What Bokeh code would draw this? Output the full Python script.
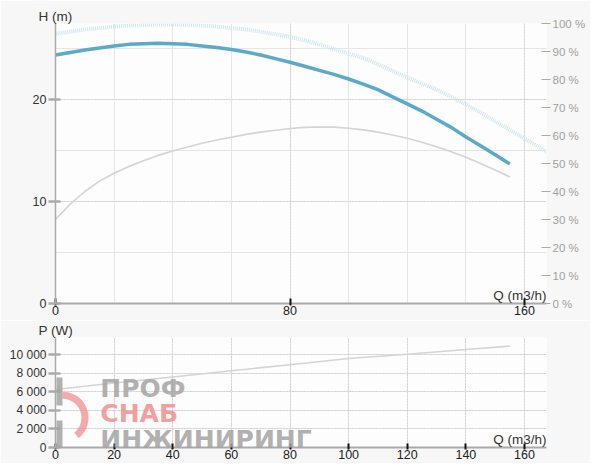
from bokeh.plotting import figure
from bokeh.layouts import column
from bokeh.models import (Range1d, LinearAxis, FixedTicker, PrintfTickFormatter,
                          Label, BoxAnnotation, Grid, Title)
from bokeh.embed import file_html
from bokeh.resources import INLINE

# ---------------- data ----------------
q_h = [0, 5, 10, 15, 20, 25, 30, 35, 40, 45, 50, 55, 60, 65, 70, 75, 80, 85, 90, 95,
       100, 105, 110, 115, 120, 125, 130, 135, 140, 145, 150, 155]
h_vals = [24.4, 24.65, 24.9, 25.1, 25.3, 25.45, 25.5, 25.55, 25.5, 25.45, 25.3, 25.15,
          24.95, 24.7, 24.4, 24.05, 23.7, 23.3, 22.9, 22.5, 22.05, 21.55, 21.0, 20.3,
          19.6, 18.9, 18.1, 17.3, 16.35, 15.5, 14.6, 13.7]

q_max = [0, 5, 10, 15, 20, 25, 30, 35, 40, 45, 50, 55, 60, 65, 70, 75, 80, 85, 90, 95,
         100, 105, 110, 115, 120, 125, 130, 135, 140, 145, 150, 155, 160, 165, 168]
h_max = [26.5, 26.7, 26.9, 27.05, 27.2, 27.3, 27.35, 27.4, 27.4, 27.38, 27.3, 27.2,
         27.05, 26.9, 26.7, 26.45, 26.2, 25.85, 25.45, 25.0, 24.55, 24.1, 23.5, 22.85,
         22.2, 21.6, 21.0, 20.3, 19.55, 18.75, 17.9, 17.05, 16.2, 15.35, 14.8]

q_eff = [0, 5, 10, 15, 20, 25, 30, 35, 40, 45, 50, 55, 60, 65, 70, 75, 80, 85, 90, 95,
         100, 105, 110, 115, 120, 125, 130, 135, 140, 145, 150, 155]
eff_vals = [30, 35.5, 40.0, 43.7, 46.5, 48.9, 51.0, 52.9, 54.5, 55.9, 57.2, 58.4, 59.4,
            60.4, 61.2, 61.9, 62.5, 62.9, 63.05, 63.0, 62.6, 62.0, 61.2, 60.2, 59.0,
            57.6, 56.0, 54.2, 52.2, 50.0, 47.7, 45.2]

q_p = [0, 20, 40, 60, 80, 100, 120, 140, 155]
p_vals = [6250, 6950, 7600, 8270, 8920, 9580, 10050, 10550, 10920]

h_ticks = [0, 10, 20]
q_ticks_top = [0, 80, 160]
pct_ticks = [0, 10, 20, 30, 40, 50, 60, 70, 80, 90, 100]
q_ticks_bottom = [0, 20, 40, 60, 80, 100, 120, 140, 160]
p_ticks = [0, 2000, 4000, 6000, 8000, 10000]
p_tick_labels = {0: "0", 2000: "2 000", 4000: "4 000", 6000: "6 000",
                 8000: "8 000", 10000: "10 000"}

Q_MAX = 167.5
H_MAX = 27.5
P_MAX = 11850

FONT = "Liberation Sans"
BORDER = "#f7f7f7"
FRAME = "#fdfdfd"
GRID = "#c4c4c4"


def style_x(ax, tick_in, tick_out):
    ax.axis_line_color = "#aaaaaa"
    ax.axis_line_width = 2
    ax.major_tick_line_color = "#111111"
    ax.major_tick_line_width = 2
    ax.major_tick_in = tick_in
    ax.major_tick_out = tick_out
    ax.minor_tick_line_color = None
    ax.major_label_standoff = 0
    ax.major_label_text_font = FONT
    ax.major_label_text_font_size = "12.5px"
    ax.major_label_text_color = "#222222"


def style_y(ax, size):
    ax.axis_line_color = "#aaaaaa"
    ax.axis_line_width = 1.5
    ax.major_tick_line_color = "#aaaaaa"
    ax.major_tick_line_width = 2.5
    ax.major_tick_in = 5
    ax.major_tick_out = 7
    ax.minor_tick_line_color = None
    ax.major_label_standoff = 2
    ax.major_label_text_font = FONT
    ax.major_label_text_font_size = size
    ax.major_label_text_color = "#333333"


def axis_title(text):
    return Title(text=text, align="left", offset=-17, standoff=0,
                 text_font=FONT, text_font_size="13.5px", text_color="#333333",
                 text_font_style="normal")


# ---------------- top chart ----------------
p1 = figure(width=590, height=320, x_range=Range1d(0, Q_MAX), y_range=Range1d(0, H_MAX),
            output_backend="svg", toolbar_location=None,
            min_border_left=55, min_border_right=44, min_border_top=23, min_border_bottom=17,
            x_axis_location=None, y_axis_location=None)
p1.extra_y_ranges = {"pct": Range1d(0, 100)}
p1.border_fill_color = BORDER
p1.background_fill_color = FRAME
p1.outline_line_color = None
p1.add_layout(axis_title("H (m)"), "above")

xa1 = LinearAxis(ticker=FixedTicker(ticks=q_ticks_top))
ya1 = LinearAxis(ticker=FixedTicker(ticks=h_ticks))
ra1 = LinearAxis(y_range_name="pct", ticker=FixedTicker(ticks=pct_ticks),
                 formatter=PrintfTickFormatter(format="%d %%"))
p1.add_layout(xa1, "below")
p1.add_layout(ya1, "left")
p1.add_layout(ra1, "right")
style_x(xa1, 5, 2)
style_y(ya1, "12.5px")

ra1.axis_line_color = None
ra1.major_tick_line_color = "#aaaaaa"
ra1.major_tick_line_width = 1
ra1.major_tick_in = 5
ra1.major_tick_out = 4
ra1.minor_tick_line_color = None
ra1.major_label_standoff = 2
ra1.major_label_text_font = FONT
ra1.major_label_text_font_size = "11.5px"
ra1.major_label_text_color = "#a0a0a0"

p1.add_layout(Grid(dimension=0, ticker=FixedTicker(ticks=[80, 160]), grid_line_color=GRID,
                   grid_line_dash="1 2", grid_line_width=1), "center")
p1.add_layout(Grid(dimension=1, ticker=FixedTicker(ticks=[10, 20]), grid_line_color=GRID,
                   grid_line_dash="1 2", grid_line_width=1), "center")

p1.line(q_max, h_max, line_color="#cde6ef", line_width=4, line_dash="1 1")
p1.line(q_eff, eff_vals, y_range_name="pct", line_color="#d4d4d4", line_width=1.6)
p1.line(q_h, h_vals, line_color="#5aaac8", line_width=3.5)

p1.add_layout(Label(x=Q_MAX, y=0, x_offset=0, y_offset=1, text="Q (m3/h)",
                    text_font=FONT, text_font_size="13.5px", text_color="#333333",
                    text_align="right", text_baseline="bottom"))

# ---------------- bottom chart ----------------
p2 = figure(width=590, height=143, x_range=Range1d(0, Q_MAX), y_range=Range1d(0, P_MAX),
            output_backend="svg", toolbar_location=None,
            min_border_left=55, min_border_right=44, min_border_top=17, min_border_bottom=16,
            x_axis_location=None, y_axis_location=None)
p2.border_fill_color = BORDER
p2.background_fill_color = FRAME
p2.outline_line_color = None
p2.add_layout(axis_title("P (W)"), "above")

xa2 = LinearAxis(ticker=FixedTicker(ticks=q_ticks_bottom))
ya2 = LinearAxis(ticker=FixedTicker(ticks=p_ticks))
ya2.major_label_overrides = p_tick_labels
p2.add_layout(xa2, "below")
p2.add_layout(ya2, "left")
style_x(xa2, 4, 2)
style_y(ya2, "12px")

p2.add_layout(Grid(dimension=0, ticker=FixedTicker(ticks=q_ticks_bottom[1:]),
                   grid_line_color=GRID, grid_line_dash="1 2", grid_line_width=1), "center")
p2.add_layout(Grid(dimension=1, ticker=FixedTicker(ticks=p_ticks[1:]),
                   grid_line_color=GRID, grid_line_dash="1 2", grid_line_width=1), "center")

p2.line(q_p, p_vals, line_color="#d4d4d4", line_width=1.6)

p2.add_layout(Label(x=Q_MAX, y=0, x_offset=0, y_offset=1, text="Q (m3/h)",
                    text_font=FONT, text_font_size="13.5px", text_color="#333333",
                    text_align="right", text_baseline="bottom"))

# ---------------- watermark (decorative logo) ----------------
WM_GRAY = "#a3a3a3"
WM_RED = "#f08e8e"
icon_gray = [(56, 62, 57, 85), (56, 62, 100, 127)]
for l, r, t, b in icon_gray:
    p2.add_layout(BoxAnnotation(left=l, right=r, top=t, bottom=b,
                                left_units="canvas", right_units="canvas",
                                top_units="canvas", bottom_units="canvas",
                                fill_color=WM_GRAY, fill_alpha=0.85, line_color=None,
                                level="overlay"))
p2.annular_wedge(x=[2.4], y=[3200], inner_radius=19, outer_radius=26,
                 inner_radius_units="screen", outer_radius_units="screen",
                 start_angle=-0.9, end_angle=1.57, fill_color=WM_RED, fill_alpha=0.75,
                 line_color=None, level="overlay")
for txt, yy, col in [("ПРОФ", 6400, WM_GRAY), ("СНАБ", 3710, WM_RED),
                     ("ИНЖИНИРИНГ", 810, WM_GRAY)]:
    p2.add_layout(Label(x=15.3, y=yy, text=txt, text_font="DejaVu Sans",
                        text_font_style="bold", text_font_size="25px", text_color=col,
                        text_alpha=0.85, text_baseline="alphabetic", level="overlay"))

layout = column(p1, p2, spacing=0)
open("out.html", "w").write(file_html(layout, INLINE))
